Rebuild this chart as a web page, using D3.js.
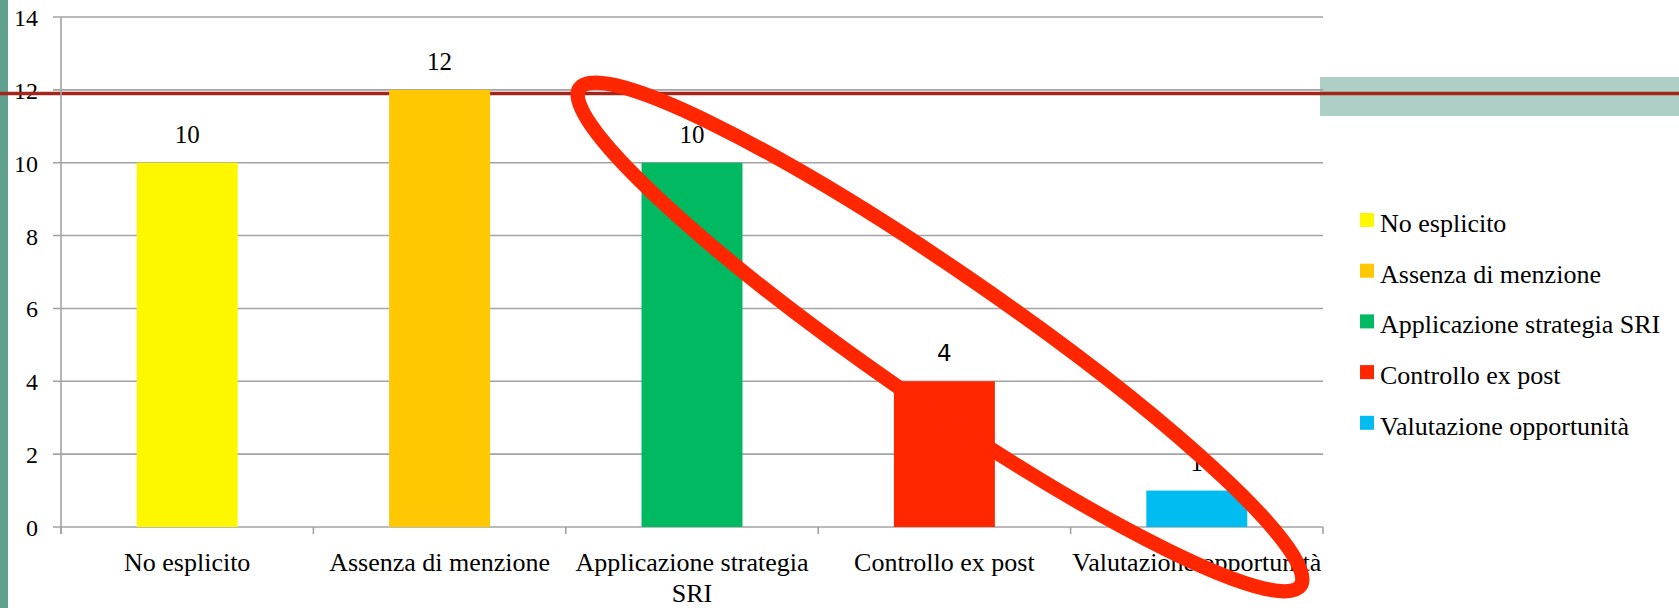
<!DOCTYPE html>
<html lang="it">
<head>
<meta charset="UTF-8">
<title>Chart</title>
<script src="https://d3js.org/d3.v7.min.js"></script>
<style>
  html, body { margin: 0; padding: 0; background: #fff; }
  svg text { font-family: "Liberation Serif", "Times New Roman", serif; fill: #000; }
</style>
</head>
<body>
<svg id="chart" width="1679" height="608"></svg>
<script>
const categories = ["No esplicito", "Assenza di menzione", "Applicazione strategia SRI", "Controllo ex post", "Valutazione opportunità"];
const values = [10, 12, 10, 4, 1];
const colors = ["#fff700", "#ffc800", "#00b960", "#ff2600", "#00bcf1"];
const yTicks = [0, 2, 4, 6, 8, 10, 12, 14];
const xLabelLines = [["No esplicito"], ["Assenza di menzione"], ["Applicazione strategia", "SRI"], ["Controllo ex post"], ["Valutazione opportunità"]];
const refValue = 11.9;

const svg = d3.select("#chart");
const W = 1679, H = 608;
const plotL = 61, plotR = 1323, plotT = 17, plotB = 527;

const x = d3.scaleBand().domain(categories).range([plotL, plotR]).padding(0);
const y = d3.scaleLinear().domain([0, 14]).range([plotB, plotT]);
const barW = x.bandwidth() * 0.4;

// slide decoration
svg.append("rect").attr("x", 0).attr("y", 0).attr("width", 8).attr("height", H).attr("fill", "#5fa08f");
svg.append("rect").attr("x", 1320).attr("y", 77).attr("width", W - 1320).attr("height", 39).attr("fill", "#aecfc6");

// gridlines
svg.append("g").selectAll("line").data(yTicks).join("line")
  .attr("x1", plotL - 8).attr("x2", plotR)
  .attr("y1", d => y(d)).attr("y2", d => y(d))
  .attr("stroke", "#a3a3a3").attr("stroke-width", 1.6);

// y labels
svg.append("g").selectAll("text").data(yTicks).join("text")
  .attr("x", 38).attr("y", d => y(d) + 9)
  .attr("text-anchor", "end").attr("font-size", 24)
  .text(d => d);

// reference line
svg.append("line").attr("x1", 0).attr("x2", W)
  .attr("y1", y(refValue)).attr("y2", y(refValue))
  .attr("stroke", "#a3261d").attr("stroke-width", 3.5);

// axes
svg.append("line").attr("x1", plotL).attr("x2", plotL).attr("y1", plotT).attr("y2", plotB + 7)
  .attr("stroke", "#a3a3a3").attr("stroke-width", 1.6);
const xTickPos = categories.map(c => x(c)).concat([plotR]);
svg.append("g").selectAll("line").data(xTickPos).join("line")
  .attr("x1", d => d).attr("x2", d => d).attr("y1", plotB).attr("y2", plotB + 7)
  .attr("stroke", "#a3a3a3").attr("stroke-width", 1.6);

// bars
svg.append("g").selectAll("rect").data(categories).join("rect")
  .attr("x", d => x(d) + (x.bandwidth() - barW) / 2)
  .attr("width", barW)
  .attr("y", (d, i) => y(values[i]))
  .attr("height", (d, i) => y(0) - y(values[i]))
  .attr("fill", (d, i) => colors[i]);

// value labels
svg.append("g").selectAll("text").data(categories).join("text")
  .attr("x", d => x(d) + x.bandwidth() / 2)
  .attr("y", (d, i) => y(values[i]) - 20)
  .attr("text-anchor", "middle")
  .style("font-family", (d, i) => i === 3 ? "'DejaVu Sans', sans-serif" : null)
  .attr("font-size", (d, i) => i === 3 ? 23 : 25)
  .text((d, i) => values[i]);

// x labels
const xl = svg.append("g").selectAll("text").data(categories).join("text")
  .attr("x", d => x(d) + x.bandwidth() / 2)
  .attr("y", 571)
  .attr("text-anchor", "middle").attr("font-size", 26);
xl.each(function(d, i) {
  d3.select(this).selectAll("tspan").data(xLabelLines[i]).join("tspan")
    .attr("x", x(d) + x.bandwidth() / 2)
    .attr("dy", (t, j) => j === 0 ? 0 : 31)
    .text(t => t);
});

// legend
const lg = svg.append("g").selectAll("g").data(categories).join("g")
  .attr("transform", (d, i) => `translate(1360, ${213 + i * 50.7})`);
lg.append("rect").attr("width", 14).attr("height", 14).attr("fill", (d, i) => colors[i]);
lg.append("text").attr("x", 20).attr("y", 19).attr("font-size", 26).text(d => d);

// highlight ellipse
svg.append("ellipse")
  .attr("cx", 0).attr("cy", 0).attr("rx", 438).attr("ry", 65)
  .attr("transform", "translate(940,337) rotate(34.6)")
  .attr("fill", "none").attr("stroke", "#ff2600").attr("stroke-width", 14.5);
</script>
</body>
</html>
